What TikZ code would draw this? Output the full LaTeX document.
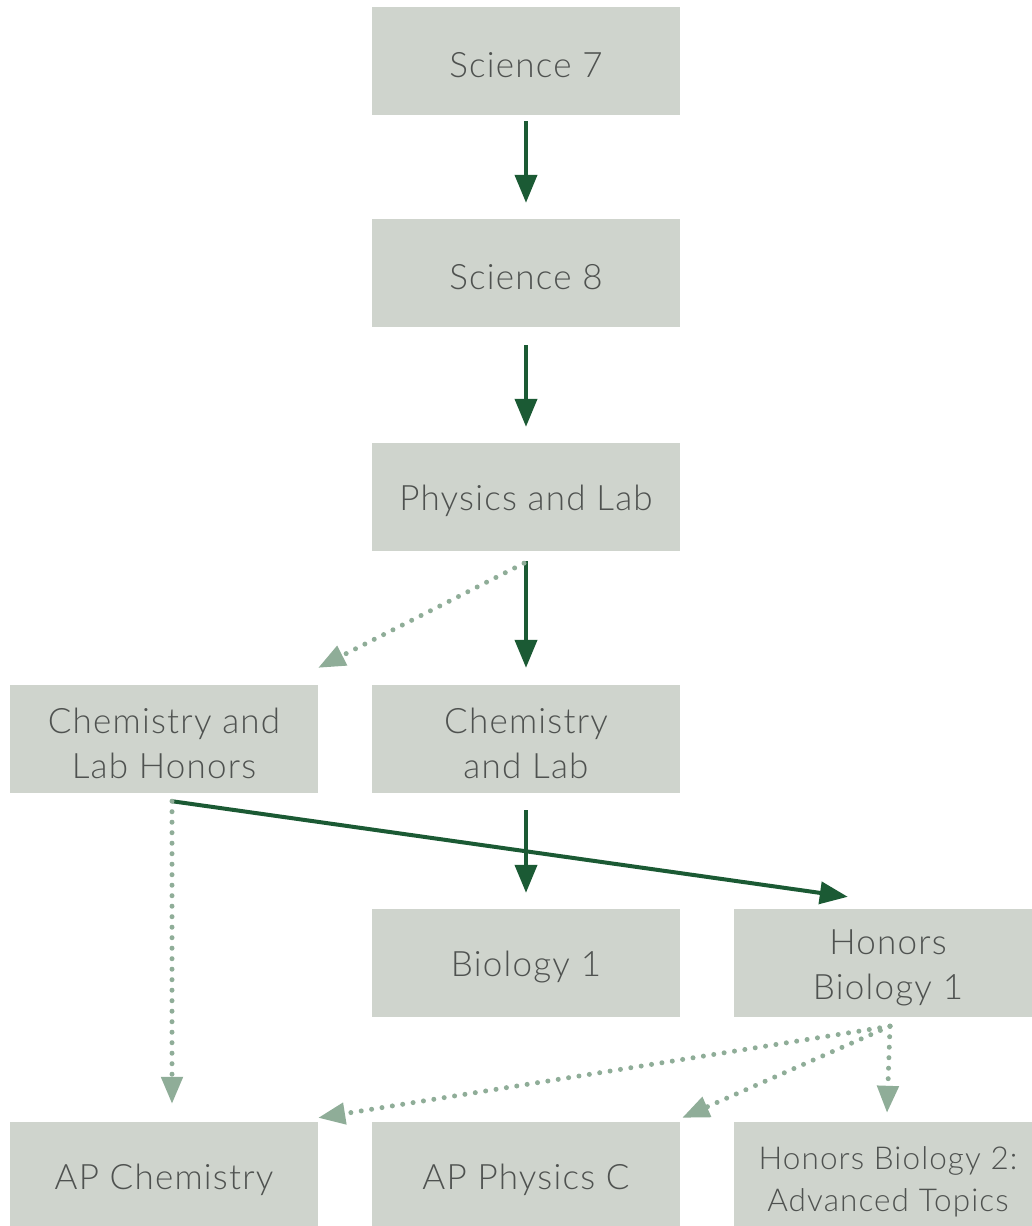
\documentclass[tikz,border=0pt]{standalone}
\usepackage{fontspec}
\setmainfont{Lato}[UprightFont=* Light, LetterSpace=3.5]
\usetikzlibrary{arrows.meta,calc}
\definecolor{boxfill}{HTML}{CFD4CD}
\definecolor{boxtext}{HTML}{4F5250}
\definecolor{darkgreen}{HTML}{1B5A34}
\definecolor{lightgreen}{HTML}{8FAD98}
\newcommand{\toppad}{\rule{0pt}{34pt}}
\tikzset{
  course/.style={fill=boxfill, minimum width=308pt, minimum height=108pt, inner sep=0pt,
    text=boxtext, align=center, font=\fontsize{35}{45}\selectfont},
  mainarrow/.style={draw=darkgreen, line width=4pt, -{Triangle[length=28pt,width=22pt]}},
  optarrow/.style={draw=lightgreen, line width=5pt, line cap=round, dash pattern=on 0pt off 10.5pt,
    -{Triangle[length=27pt,width=21pt,line cap=butt]}},
}
\begin{document}
\begin{tikzpicture}[x=1pt,y=-1pt]
\useasboundingbox[fill=white] (0,0) rectangle (1032,1226);
\node[course] (s7) at (526,61) {\toppad Science 7};
\node[course] (s8) at (526,273) {\toppad Science 8};
\node[course] (phys) at (526,497) {\toppad Physics and Lab};
\node[course] (chemh) at (164,739) {\toppad Chemistry and\\Lab Honors};
\node[course] (chem) at (526,739) {\toppad Chemistry\\and Lab};
\node[course] (bio) at (526,963) {\toppad Biology 1};
\node[course] (hbio) at (888,963) {\toppad Honors\\Biology 1};
\node[course] (apchem) at (164,1176) {\toppad AP Chemistry};
\node[course] (apphys) at (526,1176) {\toppad AP Physics C};
\node[course, font=\fontsize{31.5}{42}\selectfont] (hbio2) at (888,1176) {\toppad Honors Biology 2:\\Advanced Topics};
% connector end points
\coordinate (s7o) at ($(s7.south)+(0,6)$);
\coordinate (s8i) at ($(s8.north)+(0,-16)$);
\coordinate (s8o) at ($(s8.south)+(0,18)$);
\coordinate (physi) at ($(phys.north)+(0,-16)$);
\coordinate (physo) at ($(phys.south)+(0,10)$);
\coordinate (physd) at ($(phys.south)+(-2,12)$);
\coordinate (chemi) at ($(chem.north)+(0,-17)$);
\coordinate (chemhi) at ($(chemh.north east)+(0,-17)$);
\coordinate (chemo) at ($(chem.south)+(0,17)$);
\coordinate (bioi) at ($(bio.north)+(0,-16)$);
\coordinate (chemho) at ($(chemh.south)+(8,8)$);
\coordinate (hbioi) at ($(hbio.north west)+(114,-12)$);
\coordinate (hbioo) at ($(hbio.south)+(2,9)$);
\coordinate (apchemi) at ($(apchem.north)+(8,-18)$);
\coordinate (apchemd) at ($(apchem.north east)+(0,-4)$);
\coordinate (apphysi) at ($(apphys.north east)+(2,-4)$);
\coordinate (hbio2i) at ($(hbio2.north)+(-1,-9)$);
% main sequence
\draw[mainarrow] (s7o) -- (s8i);
\draw[mainarrow] (s8o) -- (physi);
\draw[mainarrow] (physo) -- (chemi);
\draw[mainarrow] (chemo) -- (bioi);
\draw[mainarrow] (chemho) -- (hbioi);
% optional paths
\draw[optarrow] (physd) -- (chemhi);
\draw[optarrow] (chemho) -- (apchemi);
\draw[optarrow] (hbioo) -- (apchemd);
\draw[optarrow] (hbioo) -- (apphysi);
\draw[optarrow] (hbioo) -- (hbio2i);
\end{tikzpicture}
\end{document}
